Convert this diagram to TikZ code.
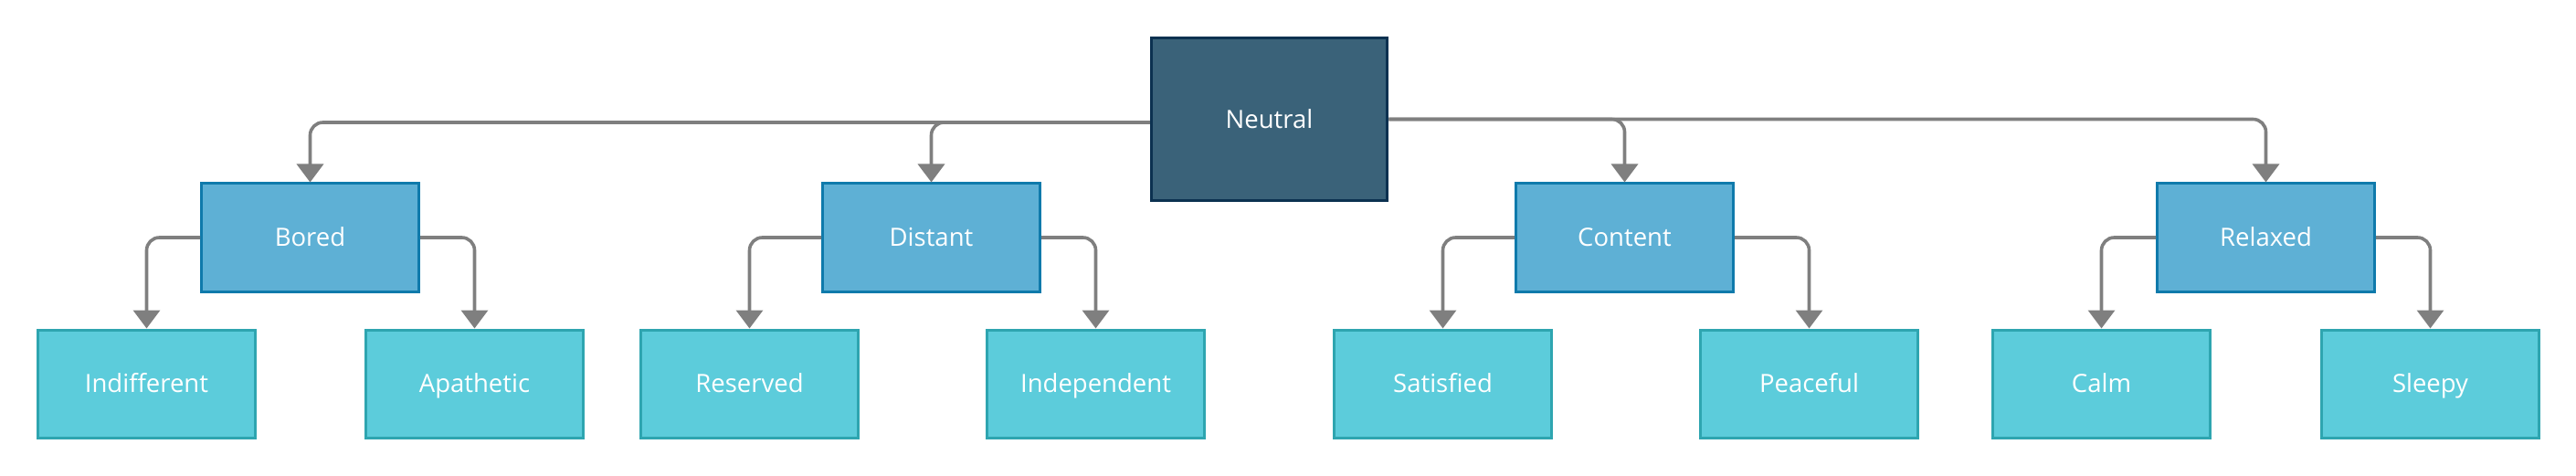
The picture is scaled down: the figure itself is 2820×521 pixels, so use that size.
\documentclass[tikz,border=0pt]{standalone}
\usepackage{fontspec}
\setmainfont{Open Sans}
\usetikzlibrary{arrows.meta}
\definecolor{topfill}{HTML}{3A6279}
\definecolor{topline}{HTML}{0B3150}
\definecolor{midfill}{HTML}{5EB0D5}
\definecolor{midline}{HTML}{0F7AAB}
\definecolor{lowfill}{HTML}{5CCCDB}
\definecolor{lowline}{HTML}{2EA5B0}
\definecolor{conn}{HTML}{7F7F7F}
\tikzset{
  box/.style={rectangle, text=white, font=\fontsize{27.5}{32}\selectfont, inner sep=0pt, text height=19.6pt, text depth=0pt},
  topbox/.style={box, fill=topfill, draw=topline, line width=3.5pt, minimum width=258pt, minimum height=178pt},
  midbox/.style={box, fill=midfill, draw=midline, line width=3pt, minimum width=238pt, minimum height=118pt},
  lowbox/.style={box, fill=lowfill, draw=lowline, line width=3pt, minimum width=238pt, minimum height=118pt},
  link/.style={draw=conn, line width=3.6pt, rounded corners=14pt, -{Triangle[width=29pt,length=20pt]}}
}
\begin{document}
\begin{tikzpicture}[x=1pt,y=-1pt]
\useasboundingbox (0,0) rectangle (2820,521);
\node[topbox] (neutral) at (1389.5,130.5) {Neutral};
\node[midbox] (bored) at (339.5,260) {Bored};
\node[midbox] (distant) at (1019.5,260) {Distant};
\node[midbox] (content) at (1778.5,260) {Content};
\node[midbox] (relaxed) at (2480.5,260) {Relaxed};
\node[lowbox] (indifferent) at (160.5,420) {Indifferent};
\node[lowbox] (apathetic) at (519.5,420) {Apathetic};
\node[lowbox] (reserved) at (820.5,420) {Reserved};
\node[lowbox] (independent) at (1199.5,420) {Independent};
\node[lowbox] (satisfied) at (1579.5,420) {Satisfied};
\node[lowbox] (peaceful) at (1980.5,420) {Peaceful};
\node[lowbox] (calm) at (2300.5,420) {Calm};
\node[lowbox] (sleepy) at (2660.5,420) {Sleepy};
\coordinate (nl) at ([yshift=-3.5pt]neutral.west);
\coordinate (nr) at (neutral.east);
\draw[link] (nl) -| (bored.north);
\draw[link] (nl) -| (distant.north);
\draw[link] (nr) -| (content.north);
\draw[link] (nr) -| (relaxed.north);
\draw[link] (bored.west) -| (indifferent.north);
\draw[link] (bored.east) -| (apathetic.north);
\draw[link] (distant.west) -| (reserved.north);
\draw[link] (distant.east) -| (independent.north);
\draw[link] (content.west) -| (satisfied.north);
\draw[link] (content.east) -| (peaceful.north);
\draw[link] (relaxed.west) -| (calm.north);
\draw[link] (relaxed.east) -| (sleepy.north);
\end{tikzpicture}
\end{document}
